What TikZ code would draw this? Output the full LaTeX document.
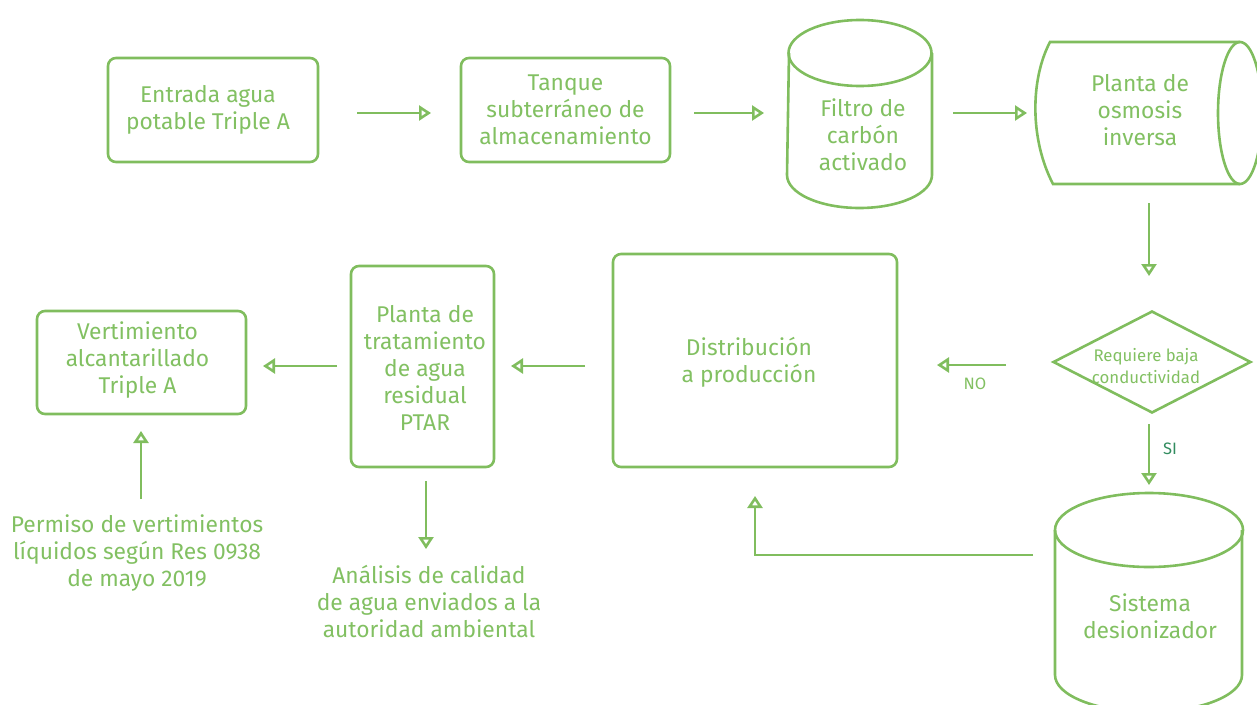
\documentclass[tikz,border=0pt]{standalone}
\usepackage{fontspec}
\setmainfont{Fira Sans}
\usetikzlibrary{arrows.meta,shapes.geometric}
\definecolor{lg}{RGB}{128,189,94}
\definecolor{tg}{RGB}{130,192,98}
\definecolor{sig}{RGB}{50,140,95}
\tikzset{
  boxnode/.style={draw=lg, line width=2.6pt, rounded corners=8pt, align=center, text=tg,
    font=\fontsize{22.8}{27}\selectfont, inner sep=0pt},
  txt/.style={align=center, text=tg, font=\fontsize{22.8}{27}\selectfont, inner sep=0pt},
  shapeline/.style={draw=lg, line width=2.6pt},
  conn/.style={draw=lg, line width=2.6pt, -{Triangle[open,length=12pt,width=15pt,fill=white]}},
}
\begin{document}
\begin{tikzpicture}[x=1pt,y=-1pt]
\useasboundingbox (0,0) rectangle (1257,704);
% boxes
\node[boxnode, minimum width=210pt, minimum height=104pt] (b1) at (213,110) {};
\node[txt] (b1t) at (208,110) {Entrada agua\\potable Triple A};
\node[boxnode, minimum width=209pt, minimum height=104pt] (b2) at (565.5,110) {Tanque\\subterráneo de\\almacenamiento};
% carbon filter cylinder
\draw[shapeline] (860,53) ellipse [x radius=71.5, y radius=33];
\draw[shapeline] (789,53) -- (787,175) arc[start angle=180, end angle=0, x radius=72.5, y radius=33] -- (932,53);
\node[txt] (b3) at (863,135) {Filtro de\\carbón\\activado};
% horizontal cylinder
\draw[shapeline] (1240,42) -- (1050,42) .. controls (1030,80) and (1030,140) .. (1053,184) -- (1240,184);
\draw[shapeline] (1240,113) ellipse [x radius=22, y radius=71];
\node[txt] (b4) at (1140,110) {Planta de\\osmosis\\inversa};
% diamond
\node[diamond, draw=lg, line width=2.6pt, aspect=1.94, minimum width=198pt, minimum height=102pt, inner sep=0pt] (d) at (1152,362) {};
\node[align=center, text=tg, font=\fontsize{16.8}{22}\selectfont, inner sep=0pt] (dt) at (1146,366) {Requiere baja\\conductividad};
% deionizer cylinder
\draw[shapeline] (1149,530) ellipse [x radius=94, y radius=37];
\draw[shapeline] (1055,530) -- (1055,675) arc[start angle=180, end angle=0, x radius=93.5, y radius=37] -- (1242,530);
\node[txt] (b5) at (1150,616) {Sistema\\desionizador};
% distribution
\node[boxnode, minimum width=284pt, minimum height=213pt] (b6) at (755,360.5) {};
\node[txt] (b6t) at (749,362) {Distribución\\a producción};
% PTAR
\node[boxnode, minimum width=143pt, minimum height=201pt] (b7) at (422.5,366.5) {};
\node[txt] (b7t) at (425,368) {Planta de\\tratamiento\\de agua\\residual\\PTAR};
% vertimiento
\node[boxnode, minimum width=209pt, minimum height=103pt] (b8) at (141.5,362.5) {};
\node[txt] (b8t) at (137.5,360) {Vertimiento\\alcantarillado\\Triple A};
% free texts
\node[txt] (t1) at (137,553) {Permiso de vertimientos\\líquidos según Res 0938\\de mayo 2019};
\node[txt] (t2) at (429,601) {Análisis de calidad\\de agua enviados a la\\autoridad ambiental};
% coordinates
\coordinate (a1s) at (357,113); \coordinate (a1e) at (431,113);
\coordinate (a2s) at (694,113); \coordinate (a2e) at (764,113);
\coordinate (a3s) at (953,113); \coordinate (a3e) at (1027,113);
\coordinate (a4s) at (1149,203); \coordinate (a4e) at (1149,276);
\coordinate (sis) at (1149,424); \coordinate (sie) at (1149,485);
\coordinate (nos) at (1006,365); \coordinate (noe) at (937,365);
\coordinate (rs) at (1033,555); \coordinate (rc) at (755,555); \coordinate (re) at (755,496);
\coordinate (a5s) at (585,366); \coordinate (a5e) at (511,366);
\coordinate (a6s) at (337,366); \coordinate (a6e) at (263,366);
\coordinate (a7s) at (141,499); \coordinate (a7e) at (141,431);
\coordinate (a8s) at (426,481); \coordinate (a8e) at (426,549);
\draw[conn] (a1s) -- (a1e);
\draw[conn] (a2s) -- (a2e);
\draw[conn] (a3s) -- (a3e);
\draw[conn] (a4s) -- (a4e);
\draw[conn] (sis) -- (sie);
\draw[conn] (nos) -- (noe);
\draw[conn] (rs) -- (rc) -- (re);
\draw[conn] (a5s) -- (a5e);
\draw[conn] (a6s) -- (a6e);
\draw[conn] (a7s) -- (a7e);
\draw[conn] (a8s) -- (a8e);
\node[text=sig, font=\fontsize{16.5}{18}\selectfont, inner sep=0pt] (si) at (1170,449) {SI};
\node[text=tg, font=\fontsize{16.5}{18}\selectfont, inner sep=0pt] (no) at (975,384) {NO};
\end{tikzpicture}
\end{document}
